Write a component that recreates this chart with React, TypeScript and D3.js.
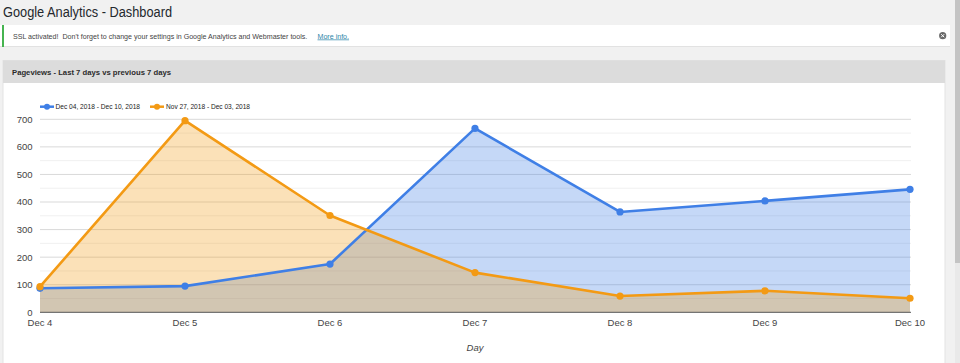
import React from "react";
import * as d3 from "d3";

const days = ["Dec 4", "Dec 5", "Dec 6", "Dec 7", "Dec 8", "Dec 9", "Dec 10"];
const currentWeek = [87, 95, 175, 667, 364, 404, 446];
const previousWeek = [93, 695, 351, 144, 59, 78, 51];
const seriesNames = ["Dec 04, 2018 - Dec 10, 2018", "Nov 27, 2018 - Dec 03, 2018"];
const yTicks = [0, 100, 200, 300, 400, 500, 600, 700];
const yMinor = [50, 150, 250, 350, 450, 550, 650];

const BLUE = "#3f7fe6";
const ORANGE = "#f39a14";
const FONT = "'Liberation Sans', Arial, sans-serif";

export default function App() {
  const W = 960;
  const H = 363;
  const x = d3.scalePoint<string>().domain(days).range([40, 910]);
  const y = d3.scaleLinear().domain([0, 700]).range([312.3, 119.3]);

  const series = [
    { name: seriesNames[0], values: currentWeek, color: BLUE },
    { name: seriesNames[1], values: previousWeek, color: ORANGE },
  ];

  const area = d3
    .area<number>()
    .x((_, i) => x(days[i]) as number)
    .y0(y(0))
    .y1((d) => y(d));
  const line = d3
    .line<number>()
    .x((_, i) => x(days[i]) as number)
    .y((d) => y(d));

  return (
    <div style={{ position: "fixed", left: 0, top: 0, width: W, height: H, overflow: "hidden" }}>
      <svg width={W} height={H} style={{ display: "block" }} fontFamily={FONT}>
        <rect x={0} y={0} width={W} height={H} fill="#f1f1f1" />
        {/* scrollbar */}
        <rect x={955} y={0} width={5} height={H} fill="#e9e9e9" />
        <rect x={955} y={0} width={5} height={263} fill="#c4c4c4" />

        {/* page title */}
        <text x={3} y={17} fontSize={14} fill="#23282d" textLength={169} lengthAdjust="spacingAndGlyphs">
          Google Analytics - Dashboard
        </text>

        {/* notice */}
        <rect x={0} y={25} width={950} height={22} fill="#ffffff" />
        <rect x={0} y={46} width={950} height={1} fill="#e2e2e2" />
        <rect x={2} y={25} width={2} height={22} fill="#46b450" />
        <text x={13} y={38.5} fontSize={7.1} fill="#444">
          {"SSL activated!\u00a0 Don't forget to change your settings in Google Analytics and Webmaster tools."}
        </text>
        <text x={317.5} y={38.5} fontSize={7.1} fill="#2e86a8" textDecoration="underline">
          More info.
        </text>
        <circle cx={942.7} cy={35.7} r={3.6} fill="#6a6a6a" />
        <path d="M941.2,34.2 L944.2,37.2 M944.2,34.2 L941.2,37.2" stroke="#fff" strokeWidth={1} />

        {/* panel */}
        <rect x={3} y={60.5} width={942} height={H} fill="#ffffff" stroke="#e3e3e3" />
        <rect x={3} y={60.5} width={942} height={22.5} fill="#dcdcdc" />
        <text x={12} y={75} fontSize={8} fontWeight="bold" fill="#2b2b2b" textLength={159} lengthAdjust="spacingAndGlyphs">
          Pageviews - Last 7 days vs previous 7 days
        </text>

        {/* legend */}
        {series.map((s, i) => {
          const lx = i === 0 ? 40 : 150;
          const tx = i === 0 ? 55.5 : 166;
          const tl = i === 0 ? 84.5 : 84;
          return (
            <g key={s.name}>
              <line x1={lx} x2={lx + 14} y1={106.7} y2={106.7} stroke={s.color} strokeWidth={2.5} />
              <circle cx={lx + 7} cy={106.7} r={3} fill={s.color} />
              <text x={tx} y={109.3} fontSize={7.3} fill="#222" textLength={tl} lengthAdjust="spacingAndGlyphs">
                {s.name}
              </text>
            </g>
          );
        })}

        {/* gridlines */}
        {yMinor.map((v) => (
          <line key={"m" + v} x1={40} x2={911} y1={y(v)} y2={y(v)} stroke="#f0f0f0" strokeWidth={1} />
        ))}
        {yTicks.filter((v) => v > 0).map((v) => (
          <line key={"g" + v} x1={40} x2={911} y1={y(v)} y2={y(v)} stroke="#d9d9d9" strokeWidth={1} />
        ))}

        {/* areas */}
        {series.map((s) => (
          <path key={"a" + s.name} d={area(s.values) as string} fill={s.color} fillOpacity={0.3} />
        ))}

        {/* baseline */}
        <line x1={40} x2={911} y1={y(0)} y2={y(0)} stroke="#555" strokeWidth={1} />

        {/* lines + points */}
        {series.map((s) => (
          <g key={"l" + s.name}>
            <path d={line(s.values) as string} fill="none" stroke={s.color} strokeWidth={2.6} strokeLinejoin="round" />
            {s.values.map((v, i) => (
              <circle key={i} cx={x(days[i]) as number} cy={y(v)} r={3.6} fill={s.color} />
            ))}
          </g>
        ))}

        {/* y tick labels */}
        {yTicks.map((v) => (
          <text key={"yt" + v} x={32.5} y={y(v) + 3.4} fontSize={9.5} fill="#444" textAnchor="end">
            {v}
          </text>
        ))}

        {/* x tick labels */}
        {days.map((d) => (
          <text key={"xt" + d} x={x(d) as number} y={326} fontSize={9.5} fill="#444" textAnchor="middle">
            {d}
          </text>
        ))}

        <text x={475} y={351} fontSize={9.5} fill="#444" textAnchor="middle" fontStyle="italic">
          Day
        </text>
      </svg>
    </div>
  );
}
